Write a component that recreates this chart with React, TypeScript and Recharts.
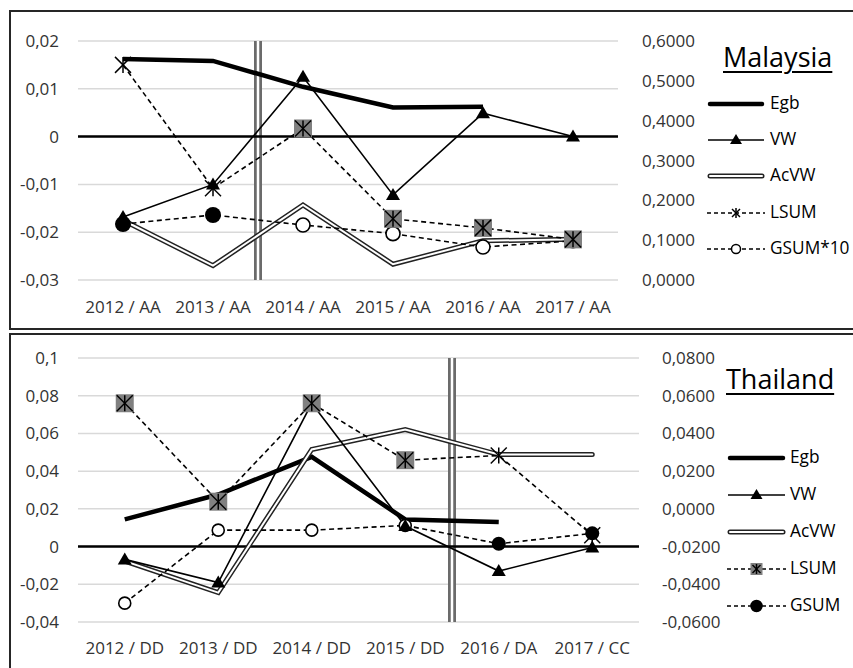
import React from "react";
import { LineChart, Line, XAxis, YAxis, CartesianGrid, ReferenceLine } from "recharts";

const FONT = '"Open Sans", sans-serif';

// Malaysia
const myCats = ["2012 / AA", "2013 / AA", "2014 / AA", "2015 / AA", "2016 / AA", "2017 / AA"];
const myEgb = [0.555, 0.55, 0.485, 0.433, 0.435, null]; // right axis
const myVW = [-0.0168, -0.01, 0.0125, -0.0122, 0.0049, 0.0];
const myAcVW = [-0.0175, -0.027, -0.0143, -0.0267, -0.0218, -0.0215];
const myLSUM = [0.015, -0.0108, 0.0017, -0.0172, -0.0191, -0.0215];
const myLSUMSig = [false, false, true, true, true, true];
const myGSUM = [-0.0183, -0.0164, -0.0185, -0.0203, -0.0231, -0.0218];
const myGSUMSig = [true, true, false, false, false, false];
const myLeftTicks = [-0.03, -0.02, -0.01, 0, 0.01, 0.02];
const myRightTicks = [0, 0.1, 0.2, 0.3, 0.4, 0.5, 0.6];

// Thailand
const thCats = ["2012 / DD", "2013 / DD", "2014 / DD", "2015 / DD", "2016 / DA", "2017 / CC"];
const thEgb = [-0.0056, 0.0076, 0.0276, -0.0056, -0.007, null]; // right axis
const thVW = [-0.0068, -0.0191, 0.076, 0.0109, -0.013, -0.0005];
const thAcVW = [-0.0077, -0.0244, 0.0515, 0.0621, 0.0488, 0.0488];
const thLSUM = [0.076, 0.0238, 0.076, 0.0458, 0.0483, 0.006];
const thLSUMSig = [true, true, true, true, false, false];
const thGSUM = [-0.03, 0.0087, 0.0087, 0.0112, 0.0015, 0.007];
const thGSUMSig = [false, false, false, false, true, true];
const thLeftTicks = [-0.04, -0.02, 0, 0.02, 0.04, 0.06, 0.08, 0.1];
const thRightTicks = [-0.06, -0.04, -0.02, 0, 0.02, 0.04, 0.06, 0.08];

const fmtLeft = (v: number) => (v === 0 ? "0" : String(+v.toFixed(2)).replace(".", ","));
const fmtRight = (v: number) => v.toFixed(4).replace(".", ",");

const tickStyle = { fontSize: 17, fill: "#333", fontFamily: FONT };

const triDot = (p: any) => {
  const { cx, cy, index } = p;
  if (cx == null || cy == null) return <g key={"t" + index} />;
  return <path key={"t" + index} d={`M${cx},${cy - 7}L${cx + 7},${cy + 5}L${cx - 7},${cy + 5}Z`} fill="#000" />;
};

const starDot = (sig: boolean[]) => (p: any) => {
  const { cx, cy, index } = p;
  if (cx == null || cy == null) return <g key={"s" + index} />;
  const s = 8;
  return (
    <g key={"s" + index}>
      {sig[index] && <rect x={cx - 9} y={cy - 9} width={18} height={18} fill="#808080" />}
      <line x1={cx - s} y1={cy - s} x2={cx + s} y2={cy + s} stroke="#000" strokeWidth={1.5} />
      <line x1={cx - s} y1={cy + s} x2={cx + s} y2={cy - s} stroke="#000" strokeWidth={1.5} />
      <line x1={cx} y1={cy - 8} x2={cx} y2={cy + 8} stroke="#000" strokeWidth={1.5} />
    </g>
  );
};

const circleDot = (filled: boolean[], r: number) => (p: any) => {
  const { cx, cy, index } = p;
  if (cx == null || cy == null) return <g key={"c" + index} />;
  return filled[index] ? (
    <circle key={"c" + index} cx={cx} cy={cy} r={r} fill="#000" />
  ) : (
    <circle key={"c" + index} cx={cx} cy={cy} r={r - 1} fill="#fff" stroke="#000" strokeWidth={1.6} />
  );
};

function Chart(props: any) {
  const { top, height, plotTop, plotBottom, plotRight, cats, egb, vw, acvw, lsum, lsumSig, gsum, gsumSig,
    leftDomain, leftTicks, rightDomain, rightTicks, sepX, xMargin, rMargin, filledR } = props;
  const data = cats.map((c: string, i: number) => ({
    idx: i, egb: egb[i], vw: vw[i], acvw: acvw[i], lsum: lsum[i], gsum: gsum[i],
  }));
  const rightW = 60;
  return (
    <div style={{ position: "absolute", left: 0, top }}>
      <LineChart
        width={853}
        height={height}
        data={data}
        margin={{ top: plotTop - top, right: 853 - plotRight - rightW, bottom: top + height - plotBottom - 30, left: 0 }}
      >
        <CartesianGrid yAxisId="left" vertical={false} stroke="#d9d9d9" strokeWidth={1.5} />
        <XAxis
          dataKey="idx"
          type="number"
          domain={[-0.5, 5.5]}
          ticks={[0, 1, 2, 3, 4, 5]}
          tickFormatter={(v: number) => cats[v]}
          axisLine={false}
          tickLine={false}
          tickSize={0}
          tickMargin={xMargin}
          height={30}
          interval={0}
          tick={tickStyle}
        />
        <YAxis
          yAxisId="left"
          width={78}
          domain={leftDomain}
          ticks={leftTicks}
          tickFormatter={fmtLeft}
          axisLine={false}
          tickLine={false}
          tickSize={0}
          tickMargin={19}
          tick={tickStyle}
          allowDataOverflow
        />
        <YAxis
          yAxisId="right"
          orientation="right"
          width={rightW}
          domain={rightDomain}
          ticks={rightTicks}
          tickFormatter={fmtRight}
          axisLine={false}
          tickLine={false}
          tickSize={0}
          tickMargin={rMargin}
          tick={{ ...tickStyle, textAnchor: "start" }}
          allowDataOverflow
        />
        <ReferenceLine yAxisId="left" x={sepX} stroke="#6b6b6b" strokeWidth={8} />
        <ReferenceLine yAxisId="left" x={sepX} stroke="#fff" strokeWidth={2.5} />
        <ReferenceLine yAxisId="left" y={0} stroke="#000" strokeWidth={2.5} />
        <Line yAxisId="right" dataKey="egb" stroke="#000" strokeWidth={4.5} dot={false} isAnimationActive={false} />
        <Line yAxisId="left" dataKey="acvw" stroke="#222" strokeWidth={5} dot={false} isAnimationActive={false} strokeLinecap="round" />
        <Line yAxisId="left" dataKey="acvw" name="acvw-inner" stroke="#fff" strokeWidth={2} dot={false} isAnimationActive={false} strokeLinecap="round" />
        <Line yAxisId="left" dataKey="gsum" stroke="#000" strokeWidth={1.6} strokeDasharray="5 3.5" dot={circleDot(gsumSig, filledR)} isAnimationActive={false} />
        <Line yAxisId="left" dataKey="vw" stroke="#000" strokeWidth={1.6} dot={triDot} isAnimationActive={false} />
        <Line yAxisId="left" dataKey="lsum" stroke="#000" strokeWidth={1.6} strokeDasharray="5 3.5" dot={starDot(lsumSig)} isAnimationActive={false} />
      </LineChart>
    </div>
  );
}

function Sample({ kind, w, sq, filled }: any) {
  const c = 10;
  const m = w / 2;
  return (
    <svg width={w} height={20} style={{ display: "block" }}>
      {kind === "egb" && <line x1={3} x2={w - 3} y1={c} y2={c} stroke="#000" strokeWidth={4.5} strokeLinecap="round" />}
      {kind === "vw" && (
        <g>
          <line x1={1} x2={w - 1} y1={c} y2={c} stroke="#000" strokeWidth={1.6} />
          <path d={`M${m},${c - 6}L${m + 6},${c + 4}L${m - 6},${c + 4}Z`} fill="#000" />
        </g>
      )}
      {kind === "acvw" && (
        <g>
          <line x1={3} x2={w - 3} y1={c} y2={c} stroke="#222" strokeWidth={5} strokeLinecap="round" />
          <line x1={3} x2={w - 3} y1={c} y2={c} stroke="#fff" strokeWidth={2} strokeLinecap="round" />
        </g>
      )}
      {kind === "lsum" && (
        <g>
          <line x1={0} x2={w} y1={c} y2={c} stroke="#000" strokeWidth={1.5} strokeDasharray="4 3" />
          {sq && <rect x={m - 6} y={c - 6} width={12} height={12} fill="#808080" />}
          <line x1={m - 4} y1={c - 4} x2={m + 4} y2={c + 4} stroke="#000" strokeWidth={1.5} />
          <line x1={m - 4} y1={c + 4} x2={m + 4} y2={c - 4} stroke="#000" strokeWidth={1.5} />
          <line x1={m} y1={c - 5} x2={m} y2={c + 5} stroke="#000" strokeWidth={1.5} />
        </g>
      )}
      {kind === "gsum" && (
        <g>
          <line x1={0} x2={w} y1={c} y2={c} stroke="#000" strokeWidth={1.5} strokeDasharray="4 3" />
          <circle cx={m} cy={c} r={filled ? 5.5 : 4.5} fill={filled ? "#000" : "#fff"} stroke="#000" strokeWidth={1.5} />
        </g>
      )}
    </svg>
  );
}

function LegendBox({ title, titleX, titleTop, x, y0, gap, w, textX, gsumLabel, sq, filled }: any) {
  const rows = [
    { kind: "egb", label: "Egb" },
    { kind: "vw", label: "VW" },
    { kind: "acvw", label: "AcVW" },
    { kind: "lsum", label: "LSUM" },
    { kind: "gsum", label: gsumLabel },
  ];
  return (
    <>
      <div style={{ position: "absolute", left: titleX, top: titleTop, fontSize: 27, lineHeight: "27px", textDecoration: "underline", textUnderlineOffset: 4, textDecorationThickness: 1.5, color: "#000" }}>
        {title}
      </div>
      {rows.map((r, i) => (
        <div key={r.kind} style={{ position: "absolute", left: x, top: y0 + i * gap - 10, height: 20, display: "flex", alignItems: "center" }}>
          <Sample kind={r.kind} w={w} sq={sq} filled={filled} />
          <span style={{ position: "absolute", left: textX - x, top: -2, fontSize: 17.3, lineHeight: "22px", color: "#000", whiteSpace: "nowrap" }}>
            {r.label}
          </span>
        </div>
      ))}
    </>
  );
}

export default function App() {
  return (
    <div style={{ position: "relative", width: 853, height: 668, overflow: "hidden", background: "#fff", fontFamily: FONT }}>
      <style>{"body{margin:0}"}</style>
      <div style={{ position: "absolute", left: 9, top: 10, width: 900, height: 320, boxSizing: "border-box", border: "2px solid #262626" }} />
      <div style={{ position: "absolute", left: 9, top: 333, width: 900, height: 400, boxSizing: "border-box", border: "2px solid #262626" }} />
      <Chart
        top={0}
        height={330}
        plotTop={41}
        plotBottom={280}
        plotRight={618}
        cats={myCats}
        egb={myEgb}
        vw={myVW}
        acvw={myAcVW}
        lsum={myLSUM}
        lsumSig={myLSUMSig}
        gsum={myGSUM}
        gsumSig={myGSUMSig}
        leftDomain={[-0.03, 0.02]}
        leftTicks={myLeftTicks}
        rightDomain={[0, 0.6]}
        rightTicks={myRightTicks}
        sepX={1.5}
        xMargin={21}
        rMargin={24}
        filledR={8}
      />
      <Chart
        top={333}
        height={335}
        plotTop={358}
        plotBottom={622}
        plotRight={639}
        cats={thCats}
        egb={thEgb}
        vw={thVW}
        acvw={thAcVW}
        lsum={thLSUM}
        lsumSig={thLSUMSig}
        gsum={thGSUM}
        gsumSig={thGSUMSig}
        leftDomain={[-0.04, 0.1]}
        leftTicks={thLeftTicks}
        rightDomain={[-0.06, 0.08]}
        rightTicks={thRightTicks}
        sepX={3.5}
        xMargin={20}
        rMargin={23}
        filledR={7}
      />
      <LegendBox title="Malaysia" titleX={723} titleTop={43} x={707} y0={104} gap={36.2} w={58} textX={770} gsumLabel="GSUM*10" sq={false} filled={false} />
      <LegendBox title="Thailand" titleX={726} titleTop={365} x={727} y0={458} gap={37} w={59} textX={790} gsumLabel="GSUM" sq={true} filled={true} />
    </div>
  );
}
